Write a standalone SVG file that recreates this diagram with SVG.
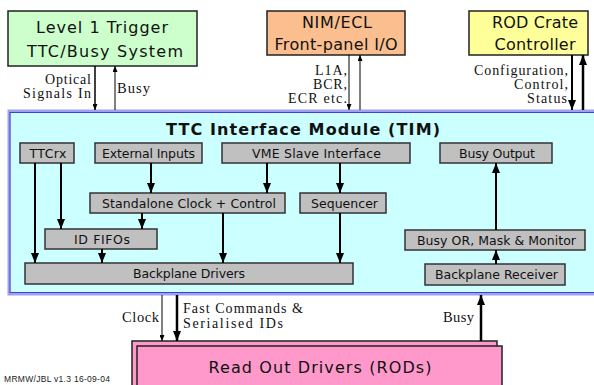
<svg xmlns="http://www.w3.org/2000/svg" width="594" height="385" viewBox="0 0 594 385">
<style>
.ext{stroke:#222;stroke-width:1.5}
.box{fill:#c0c0c0;stroke:#333;stroke-width:1.5}
.bt{font-family:"DejaVu Sans",Verdana,sans-serif;font-size:12.5px;fill:#111;text-anchor:middle}
.big{font-family:"DejaVu Sans",Verdana,sans-serif;font-size:16px;fill:#111;text-anchor:middle}
.lab{font-family:"Liberation Serif","Times New Roman",serif;font-size:14.5px;fill:#111}
.st{font-size:14px}
.r{text-anchor:end}
.c{fill:none;stroke:#000;stroke-width:2}
.cs{fill:none;stroke:#000;stroke-width:1}
</style>
<defs>
<marker id="ah" viewBox="0 0 10 8" refX="10" refY="4" markerWidth="10" markerHeight="8" markerUnits="userSpaceOnUse" orient="auto"><path d="M0,0 L10,4 L0,8 z" fill="#000"/></marker>
<marker id="as" viewBox="0 0 6 5" refX="6" refY="2.5" markerWidth="6" markerHeight="5" markerUnits="userSpaceOnUse" orient="auto"><path d="M0,0 L6,2.5 L0,5 z" fill="#000"/></marker>
</defs>
<rect width="594" height="385" fill="#fff"/>

<g id="l1trigger">
<rect x="8" y="11" width="189" height="55" fill="#ccffcc" class="ext"/>
<text class="big" x="102" y="33" font-size="17" textLength="132">Level 1 Trigger</text>
<text class="big" x="105" y="57" font-size="17" textLength="156">TTC/Busy System</text>
</g>
<g id="nimecl">
<rect x="267" y="11" width="138" height="44" fill="#fbbf8f" class="ext"/>
<text class="big" x="337" y="28" textLength="70">NIM/ECL</text>
<text class="big" x="336" y="50" textLength="123">Front-panel I/O</text>
</g>
<g id="rcc">
<rect x="469" y="11" width="119" height="44" fill="#ffff99" class="ext"/>
<text class="big" x="535" y="28" textLength="86">ROD Crate</text>
<text class="big" x="535" y="50" textLength="81">Controller</text>
</g>

<g id="tim">
<rect x="9" y="111" width="592" height="183" fill="#ccffff" stroke="#a0a0f0" stroke-width="3"/>
<rect x="10" y="112.5" width="590" height="180" fill="none" stroke="#4040cc" stroke-width="1"/>
<text x="303" y="135" font-family="'DejaVu Sans',Verdana,sans-serif" font-weight="bold" font-size="16" text-anchor="middle" textLength="274" fill="#111">TTC Interface Module (TIM)</text>
</g>

<g id="ttcrx"><rect class="box" x="20" y="143" width="54" height="20"/><text class="bt" x="48" y="158" textLength="37">TTCrx</text></g>
<g id="extinputs"><rect class="box" x="95" y="143" width="107" height="20"/><text class="bt" x="148.5" y="158" textLength="93">External Inputs</text></g>
<g id="vme"><rect class="box" x="222" y="143" width="188" height="20"/><text class="bt" x="316.5" y="158" textLength="129">VME Slave Interface</text></g>
<g id="busyout"><rect class="box" x="440" y="143" width="112" height="20"/><text class="bt" x="497" y="158" textLength="76">Busy Output</text></g>
<g id="standalone"><rect class="box" x="90" y="193" width="195" height="20"/><text class="bt" x="189" y="208" textLength="174">Standalone Clock + Control</text></g>
<g id="sequencer"><rect class="box" x="300" y="193" width="86" height="20"/><text class="bt" x="344.5" y="208" textLength="67">Sequencer</text></g>
<g id="idfifos"><rect class="box" x="45" y="229" width="112" height="20"/><text class="bt" x="102" y="244" textLength="56">ID FIFOs</text></g>
<g id="bpdrivers"><rect class="box" x="25" y="263" width="328" height="21"/><text class="bt" x="189" y="278" textLength="112">Backplane Drivers</text></g>
<g id="busyor"><rect class="box" x="405" y="230" width="180" height="20"/><text class="bt" x="496.5" y="245" textLength="159">Busy OR, Mask &amp; Monitor</text></g>
<g id="bpreceiver"><rect class="box" x="425" y="264" width="140" height="21"/><text class="bt" x="496.5" y="279" textLength="123">Backplane Receiver</text></g>

<g id="rods">
<rect x="132" y="341" width="365" height="50" fill="#ff99cc" stroke="#222" stroke-width="1.5"/>
<rect x="137" y="346" width="365" height="50" fill="#ff99cc" stroke="#222" stroke-width="1.5"/>
<text class="big" x="320" y="373" textLength="223">Read Out Drivers (RODs)</text>
</g>

<g id="connectors">
<line class="c" x1="35" y1="163" x2="35" y2="263" marker-end="url(#ah)"/>
<line class="c" x1="61" y1="163" x2="61" y2="229" marker-end="url(#ah)"/>
<line class="c" x1="151" y1="163" x2="151" y2="193" marker-end="url(#ah)"/>
<line class="c" x1="267" y1="163" x2="267" y2="193" marker-end="url(#ah)"/>
<line class="c" x1="142" y1="213" x2="142" y2="229" marker-end="url(#ah)"/>
<line class="c" x1="102" y1="249" x2="102" y2="263" marker-end="url(#ah)"/>
<line class="c" x1="223" y1="213" x2="223" y2="263" marker-end="url(#ah)"/>
<line class="c" x1="340" y1="163" x2="340" y2="193" marker-end="url(#ah)"/>
<line class="c" x1="340" y1="213" x2="340" y2="263" marker-end="url(#ah)"/>
<line class="c" x1="496" y1="264" x2="496" y2="250" marker-end="url(#ah)"/>
<line class="c" x1="496" y1="230" x2="496" y2="163" marker-end="url(#ah)"/>

<line x1="95" y1="66" x2="95" y2="110" stroke="#000" stroke-width="1.5" marker-end="url(#as)"/>
<line class="cs" x1="115" y1="110" x2="115" y2="66" marker-end="url(#as)"/>
<line class="cs" x1="349" y1="55" x2="349" y2="110" marker-end="url(#as)"/>
<line class="cs" x1="360" y1="110" x2="360" y2="55" marker-end="url(#as)"/>
<line class="c" x1="572" y1="55" x2="572" y2="110" marker-end="url(#ah)"/>
<line x1="583" y1="110" x2="583" y2="55" stroke="#000" stroke-width="2.5" marker-end="url(#ah)"/>

<line class="cs" x1="162" y1="295" x2="162" y2="341" marker-end="url(#as)"/>
<line x1="177" y1="295" x2="177" y2="341" stroke="#000" stroke-width="2.5" marker-end="url(#ah)"/>
<line x1="481" y1="341" x2="481" y2="295" stroke="#000" stroke-width="2.5" marker-end="url(#ah)"/>
</g>

<g id="labels">
<text class="lab st r" x="91" y="84" textLength="46">Optical</text>
<text class="lab st r" x="91" y="98" textLength="68">Signals  In</text>
<text class="lab" x="117" y="93" textLength="33">Busy</text>
<text class="lab st r" x="347" y="75" textLength="32">L1A,</text>
<text class="lab st r" x="347" y="89" textLength="34">BCR,</text>
<text class="lab st r" x="347" y="103" textLength="59">ECR etc.</text>
<text class="lab st r" x="568" y="75" textLength="94">Configuration,</text>
<text class="lab st r" x="568" y="89" textLength="54">Control,</text>
<text class="lab st r" x="567" y="103" textLength="40">Status</text>
<text class="lab r" x="159" y="322" textLength="37">Clock</text>
<text class="lab st" x="183" y="313" textLength="120">Fast Commands &amp;</text>
<text class="lab st" x="183" y="328" textLength="100">Serialised IDs</text>
<text class="lab r" x="474" y="322" textLength="31">Busy</text>
<text x="4" y="382" font-family="'Liberation Sans',Arial,sans-serif" font-size="8.5" fill="#222" textLength="106">MRMW/JBL v1.3 16-09-04</text>
</g>
</svg>
